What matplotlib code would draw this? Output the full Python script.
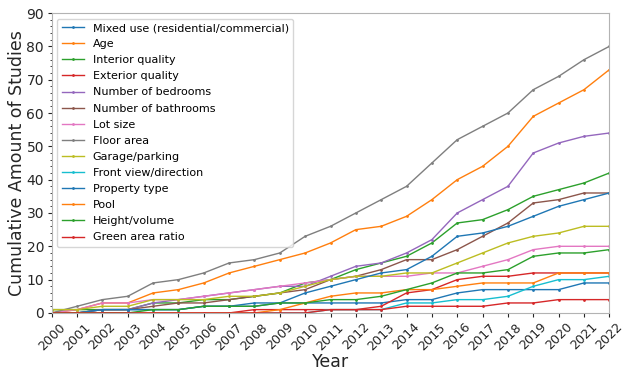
import numpy as np
import matplotlib.pyplot as plt

years = list(range(2000, 2023))

labels = ["Mixed use (residential/commercial)", "Age", "Interior quality",
          "Exterior quality", "Number of bedrooms", "Number of bathrooms",
          "Lot size", "Floor area", "Garage/parking", "Front view/direction",
          "Property type", "Pool", "Height/volume", "Green area ratio"]

mixed_use = [0, 0, 1, 1, 1, 1, 2, 2, 3, 3, 3, 3, 3, 3, 4, 4, 6, 7, 7, 7, 7, 9, 9]
age = [0, 1, 3, 3, 6, 7, 9, 12, 14, 16, 18, 21, 25, 26, 29, 34, 40, 44, 50, 59, 63, 67, 73]
interior = [1, 1, 1, 1, 3, 3, 4, 4, 5, 6, 9, 10, 13, 15, 17, 21, 27, 28, 31, 35, 37, 39, 42]
exterior = [0, 0, 0, 0, 0, 0, 0, 0, 1, 1, 1, 1, 1, 2, 6, 7, 10, 11, 11, 12, 12, 12, 12]
bedrooms = [0, 0, 1, 1, 3, 4, 5, 6, 7, 8, 8, 11, 14, 15, 18, 22, 30, 34, 38, 48, 51, 53, 54]
bathrooms = [0, 0, 1, 1, 2, 3, 3, 4, 5, 6, 7, 10, 11, 13, 16, 16, 19, 23, 27, 33, 34, 36, 36]
lot_size = [0, 1, 3, 3, 4, 4, 5, 6, 7, 8, 9, 10, 11, 11, 11, 12, 12, 14, 16, 19, 20, 20, 20]
floor_area = [0, 2, 4, 5, 9, 10, 12, 15, 16, 18, 23, 26, 30, 34, 38, 45, 52, 56, 60, 67, 71, 76, 80]
garage = [1, 1, 2, 2, 4, 4, 4, 5, 5, 6, 8, 10, 11, 11, 12, 12, 15, 18, 21, 23, 24, 26, 26]
front_view = [0, 0, 0, 0, 0, 0, 0, 0, 0, 0, 0, 1, 1, 1, 3, 3, 4, 4, 5, 8, 10, 10, 11]
property_type = [0, 0, 1, 1, 1, 1, 2, 2, 2, 3, 6, 8, 10, 12, 13, 17, 23, 24, 26, 29, 32, 34, 36]
pool = [0, 0, 0, 0, 0, 0, 0, 0, 0, 1, 3, 5, 6, 6, 7, 7, 8, 9, 9, 9, 12, 12, 12]
height_volume = [0, 0, 0, 0, 1, 1, 2, 2, 2, 3, 3, 4, 4, 5, 7, 9, 12, 12, 13, 17, 18, 18, 19]
green_area = [0, 0, 0, 0, 0, 0, 0, 0, 0, 0, 0, 1, 1, 1, 2, 2, 2, 2, 3, 3, 4, 4, 4]

series = [mixed_use, age, interior, exterior, bedrooms, bathrooms, lot_size,
          floor_area, garage, front_view, property_type, pool, height_volume,
          green_area]

fig = plt.figure(figsize=(6.23, 3.73), dpi=100)
ax = fig.add_axes([0.083, 0.161, 0.895, 0.804])

for s, lab in zip(series, labels):
    ax.plot(years, s, marker='.', markersize=2, linewidth=1, label=lab)

ax.set_xlim(2000, 2022)
ax.set_ylim(0, 90)
ax.set_xticks(years)
ax.set_xticklabels([str(y) for y in years], rotation=45, fontsize=9.2)
ax.tick_params(axis='both', which='major', length=3, pad=2.5, colors='0.15')
ax.tick_params(axis='y', labelsize=10)
ax.minorticks_on()
ax.tick_params(axis='y', which='minor', length=1.8, color='0.15')
ax.tick_params(axis='x', which='minor', bottom=False)
for sp in ax.spines.values():
    sp.set_color('0.7')
ax.set_xlabel("Year", fontsize=12.5, labelpad=0, color='0.15')
ax.set_ylabel("Cumulative Amount of Studies", fontsize=12.5, color='0.15')
ax.yaxis.set_label_coords(-0.046, 0.5)
ax.legend(loc='upper left', fontsize=8, labelspacing=0.55)

fig.savefig("out.png", dpi=100)
